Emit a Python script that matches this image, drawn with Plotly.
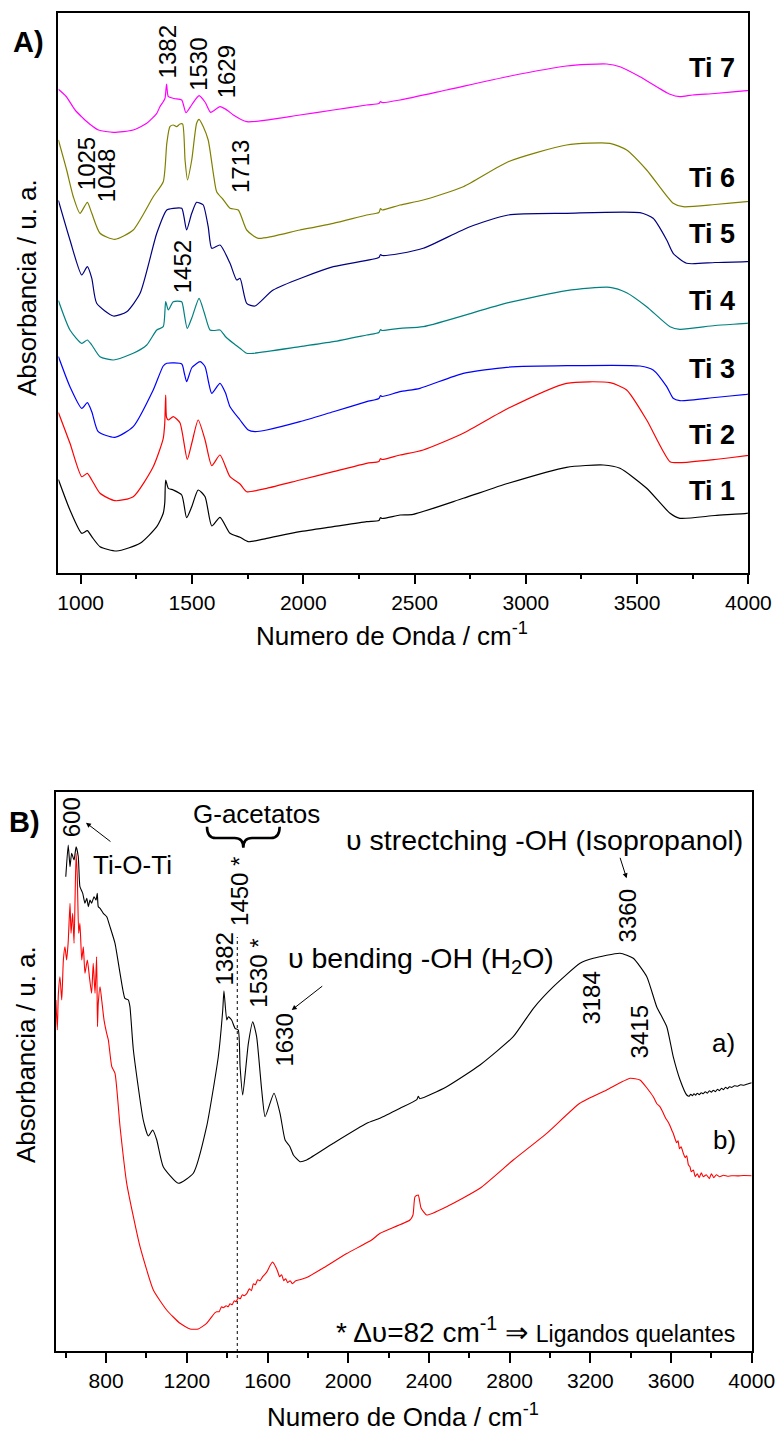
import plotly.graph_objects as go

W, H = 777, 1434
FONT = "Liberation Sans, Arial, Helvetica, sans-serif"

# ---------------- Panel A: FTIR spectra of samples Ti 1 ... Ti 7 (offset) ----------------
ti7_wn = [900, 935, 975, 1010, 1027, 1040, 1080, 1147, 1236, 1297, 1342, 1356, 1371, 1379, 1386, 1394,
          1420, 1454, 1473, 1500, 1532, 1560, 1584, 1626, 1660, 1686, 1746, 1985, 2135, 2285, 2340,
          2347, 2355, 2435, 2644, 2920, 3183, 3363, 3423, 3513, 3648, 3692, 3750, 3850, 3992, 4000]
ti7_abs = [4.832, 4.76, 4.625, 4.545, 4.51, 4.485, 4.425, 4.402, 4.425, 4.492, 4.592, 4.658, 4.708, 4.742,
           4.885, 4.758, 4.74, 4.725, 4.598, 4.68, 4.768, 4.70, 4.602, 4.658, 4.62, 4.575, 4.508, 4.575,
           4.625, 4.675, 4.69, 4.71, 4.70, 4.725, 4.825, 4.96, 5.065, 5.085, 5.058, 4.958, 4.782, 4.758,
           4.775, 4.79, 4.818, 4.82]

ti6_wn = [900, 937, 967, 997, 1030, 1050, 1087, 1154, 1236, 1326, 1371, 1387, 1401, 1416, 1431, 1446,
          1458, 1469, 1480, 1499, 1521, 1532, 1551, 1573, 1596, 1611, 1640, 1671, 1708, 1746, 1798,
          1985, 2135, 2285, 2340, 2347, 2355, 2435, 2539, 2719, 2921, 3183, 3378, 3453, 3543, 3662,
          3707, 3850, 3992, 4000]
ti6_abs = [4.325, 4.025, 3.758, 3.592, 3.702, 3.592, 3.392, 3.332, 3.425, 3.758, 3.908, 4.292, 4.458,
           4.475, 4.458, 4.485, 4.485, 4.125, 3.925, 4.125, 4.492, 4.532, 4.458, 4.325, 3.992, 3.808,
           3.73, 3.642, 3.625, 3.425, 3.342, 3.425, 3.492, 3.575, 3.60, 3.64, 3.625, 3.675, 3.725,
           3.858, 4.108, 4.275, 4.292, 4.225, 4.025, 3.692, 3.658, 3.68, 3.708, 3.71]

ti5_wn = [900, 952, 1005, 1030, 1050, 1072, 1147, 1207, 1267, 1342, 1387, 1416, 1454, 1464, 1476, 1499,
          1521, 1537, 1551, 1573, 1589, 1626, 1671, 1701, 1716, 1746, 1783, 1865, 2135, 2340, 2347,
          2355, 2435, 2539, 2749, 2921, 3183, 3513, 3572, 3633, 3662, 3722, 3850, 3992, 4000]
ti5_abs = [3.72, 3.325, 2.975, 3.058, 2.942, 2.692, 2.565, 2.608, 2.792, 3.392, 3.625, 3.642, 3.642, 3.558,
           3.425, 3.592, 3.702, 3.692, 3.675, 3.458, 3.242, 3.275, 3.092, 2.925, 2.942, 2.692, 2.665,
           2.825, 3.058, 3.15, 3.18, 3.17, 3.19, 3.242, 3.458, 3.575, 3.592, 3.598, 3.542, 3.325,
           3.192, 3.092, 3.10, 3.108, 3.11]

ti4_wn = [900, 952, 1005, 1030, 1050, 1087, 1147, 1236, 1297, 1342, 1371, 1382, 1394, 1416, 1454, 1460,
          1479, 1500, 1532, 1555, 1581, 1600, 1626, 1650, 1686, 1716, 1746, 1776, 1985, 2135, 2285,
          2340, 2347, 2355, 2435, 2539, 2921, 3183, 3378, 3453, 3543, 3648, 3692, 3850, 3992, 4000]
ti4_abs = [2.72, 2.425, 2.292, 2.325, 2.275, 2.158, 2.125, 2.192, 2.275, 2.425, 2.458, 2.708, 2.625, 2.708,
           2.708, 2.66, 2.442, 2.55, 2.742, 2.60, 2.425, 2.42, 2.425, 2.36, 2.292, 2.242, 2.192, 2.192,
           2.258, 2.308, 2.375, 2.40, 2.43, 2.42, 2.442, 2.458, 2.698, 2.818, 2.852, 2.798, 2.658,
           2.458, 2.432, 2.47, 2.492, 2.495]

ti3_wn = [900, 952, 1005, 1030, 1050, 1079, 1154, 1236, 1326, 1371, 1387, 1454, 1465, 1476, 1500, 1537,
          1559, 1575, 1589, 1626, 1650, 1671, 1716, 1753, 1783, 1836, 1985, 2135, 2285, 2340, 2347,
          2355, 2435, 2524, 2719, 2914, 3183, 3513, 3572, 3633, 3662, 3692, 3850, 3992, 4000]
ti3_abs = [2.16, 1.858, 1.642, 1.698, 1.608, 1.408, 1.352, 1.458, 1.825, 2.065, 2.092, 2.085, 2.0, 1.908,
           2.05, 2.108, 2.058, 1.90, 1.792, 1.892, 1.80, 1.658, 1.525, 1.425, 1.408, 1.425, 1.508,
           1.608, 1.708, 1.74, 1.77, 1.76, 1.808, 1.842, 1.992, 2.052, 2.068, 2.065, 2.025, 1.858,
           1.742, 1.718, 1.75, 1.782, 1.785]

ti2_wn = [900, 952, 1005, 1030, 1050, 1087, 1154, 1236, 1326, 1371, 1378, 1382, 1386, 1394, 1416, 1446,
          1479, 1500, 1528, 1559, 1589, 1626, 1671, 1716, 1746, 1836, 1985, 2135, 2285, 2340, 2347,
          2355, 2435, 2539, 2719, 2921, 3183, 3378, 3453, 3543, 3648, 3692, 3850, 3992, 4000]
ti2_abs = [1.60, 1.292, 0.958, 0.992, 0.925, 0.792, 0.718, 0.758, 1.058, 1.342, 1.50, 1.775, 1.55, 1.525,
           1.558, 1.498, 1.132, 1.30, 1.525, 1.325, 1.068, 1.175, 0.958, 0.885, 0.808, 0.842, 0.925,
           1.008, 1.092, 1.11, 1.14, 1.13, 1.175, 1.225, 1.392, 1.642, 1.892, 1.898, 1.825, 1.525,
           1.108, 1.098, 1.13, 1.168, 1.17]

ti1_wn = [900, 952, 1005, 1030, 1050, 1087, 1162, 1267, 1342, 1371, 1378, 1382, 1394, 1416, 1454, 1476,
          1499, 1528, 1559, 1589, 1626, 1671, 1716, 1753, 1836, 1985, 2135, 2285, 2340, 2347, 2355,
          2435, 2494, 2719, 2921, 3183, 3348, 3423, 3543, 3648, 3692, 3850, 3992, 4000]
ti1_abs = [0.93, 0.625, 0.392, 0.418, 0.358, 0.258, 0.215, 0.292, 0.458, 0.592, 0.70, 0.925, 0.842, 0.825,
           0.775, 0.548, 0.658, 0.825, 0.758, 0.465, 0.552, 0.392, 0.352, 0.308, 0.342, 0.408, 0.458,
           0.508, 0.52, 0.55, 0.54, 0.575, 0.582, 0.742, 0.892, 1.052, 1.075, 1.042, 0.842, 0.592,
           0.542, 0.57, 0.592, 0.595]

series_a = [
    ("Ti 1", ti1_wn, ti1_abs, "#000000"),
    ("Ti 2", ti2_wn, ti2_abs, "#FF0000"),
    ("Ti 3", ti3_wn, ti3_abs, "#0000FF"),
    ("Ti 4", ti4_wn, ti4_abs, "#008080"),
    ("Ti 5", ti5_wn, ti5_abs, "#000080"),
    ("Ti 6", ti6_wn, ti6_abs, "#808000"),
    ("Ti 7", ti7_wn, ti7_abs, "#FF00FF"),
]
# vertical position (absorbance units) of each sample name at the right side
label_a_y = [0.815, 1.38, 2.035, 2.715, 3.385, 3.95, 5.045]

# band assignments written above the peaks (value, absorbance of label centre, x shift px)
peaks_a = [("1382", 5.208, 2), ("1530", 5.083, 0), ("1629", 5.008, 6),
           ("1025", 4.085, 0), ("1048", 3.967, 15), ("1713", 4.058, 1), ("1452", 3.055, 1)]

# ---------------- Panel B: spectra a) and b) ----------------
a_wn = [600, 612, 621, 629, 641, 651, 662, 670, 684, 695, 704, 712, 720, 728, 740, 750, 756, 761, 770,
        786, 803, 819, 844, 869, 893, 910, 918, 935, 984, 1009, 1031, 1051, 1083, 1158, 1232, 1298,
        1356, 1378, 1384, 1398, 1406, 1422, 1439, 1455, 1464, 1477, 1505, 1527, 1546, 1571, 1588,
        1632, 1662, 1687, 1711, 1728, 1761, 1794, 1926, 2092, 2157, 2257, 2340, 2347, 2355, 2488,
        2653, 2818, 2918, 3017, 3149, 3215, 3347, 3413, 3480, 3529, 3579, 3611, 3645, 3678, 3690,
        3698, 3706, 3714, 3722, 3730, 3740, 3750, 3760, 3770, 3780, 3790, 3800, 3810, 3820, 3830,
        3840, 3850, 3860, 3870, 3880, 3890, 3900, 3915, 3930, 3945, 3960, 3980, 4000]
a_abs = [4.74, 5.057, 4.84, 4.974, 4.907, 5.04, 4.94, 4.64, 4.574, 4.474, 4.524, 4.44, 4.507, 4.474,
         4.54, 4.507, 4.574, 4.44, 4.424, 4.374, 4.34, 4.24, 4.074, 3.774, 3.524, 3.507, 3.44, 3.007,
         2.307, 2.147, 2.207, 2.107, 1.84, 1.674, 1.774, 2.24, 2.94, 3.407, 3.60, 3.307, 3.34, 3.307,
         3.224, 3.207, 2.84, 2.557, 3.074, 3.29, 3.14, 2.607, 2.34, 2.574, 2.374, 2.107, 2.04, 1.957,
         1.89, 1.907, 2.074, 2.274, 2.324, 2.424, 2.51, 2.545, 2.52, 2.64, 2.857, 3.14, 3.424, 3.64,
         3.874, 3.924, 3.974, 3.924, 3.74, 3.44, 3.24, 2.94, 2.707, 2.557, 2.545, 2.565, 2.55, 2.57,
         2.555, 2.575, 2.56, 2.58, 2.57, 2.59, 2.575, 2.60, 2.585, 2.605, 2.59, 2.615, 2.60, 2.625,
         2.61, 2.635, 2.62, 2.64, 2.632, 2.65, 2.645, 2.66, 2.655, 2.668, 2.68]

b_wn = [551, 558, 563, 571, 580, 588, 596, 604, 612, 621, 626, 634, 641, 651, 657, 664, 670, 679, 687,
        695, 707, 717, 728, 736, 745, 753, 757, 761, 770, 778, 790, 803, 811, 828, 844, 869, 902, 935,
        968, 1034, 1100, 1166, 1216, 1257, 1298, 1320, 1340, 1348, 1360, 1372, 1381, 1395, 1405,
        1414, 1425, 1435, 1444, 1455, 1465, 1475, 1485, 1497, 1510, 1520, 1530, 1540, 1551, 1563,
        1576, 1590, 1600, 1612, 1625, 1632, 1640, 1649, 1660, 1670, 1680, 1690, 1700, 1712, 1723,
        1740, 1760, 1797, 1870, 1993, 2116, 2158, 2306, 2321, 2331, 2347, 2361, 2389, 2488, 2653,
        2818, 2984, 3148, 3281, 3397, 3446, 3512, 3530, 3545, 3562, 3575, 3585, 3595, 3605, 3611,
        3620, 3628, 3635, 3642, 3650, 3661, 3670, 3678, 3686, 3694, 3700, 3711, 3720, 3730, 3740,
        3750, 3760, 3775, 3790, 3800, 3812, 3825, 3840, 3860, 3880, 3900, 3930, 3960, 4000]
b_abs = [3.507, 3.207, 3.557, 3.74, 3.507, 3.907, 4.04, 3.907, 4.09, 4.474, 4.174, 4.374, 4.074, 4.974,
         4.74, 4.174, 4.274, 3.907, 4.04, 3.774, 3.907, 3.74, 3.574, 3.874, 3.574, 3.94, 3.24, 3.474,
         3.64, 3.507, 3.30, 3.17, 3.107, 2.84, 2.774, 2.24, 1.674, 1.34, 1.04, 0.607, 0.407, 0.274,
         0.217, 0.217, 0.274, 0.33, 0.38, 0.39, 0.39, 0.44, 0.43, 0.45, 0.44, 0.47, 0.46, 0.50, 0.49,
         0.53, 0.52, 0.56, 0.55, 0.57, 0.62, 0.60, 0.67, 0.66, 0.71, 0.70, 0.74, 0.77, 0.80, 0.85,
         0.887, 0.87, 0.84, 0.80, 0.74, 0.76, 0.70, 0.72, 0.68, 0.70, 0.67, 0.70, 0.71, 0.735, 0.82,
         0.972, 1.107, 1.174, 1.307, 1.357, 1.54, 1.557, 1.427, 1.357, 1.44, 1.624, 1.907, 2.174,
         2.474, 2.607, 2.724, 2.707, 2.54, 2.47, 2.44, 2.374, 2.32, 2.29, 2.25, 2.20, 2.174, 2.12,
         2.08, 2.10, 2.02, 2.04, 1.974, 1.93, 1.95, 1.86, 1.84, 1.79, 1.807, 1.74, 1.77, 1.73, 1.78,
         1.74, 1.76, 1.72, 1.77, 1.73, 1.76, 1.74, 1.755, 1.745, 1.75, 1.748, 1.752, 1.75]

# band labels of panel B (text, wavenumber, absorbance of label centre, x shift px)
peaks_b = [("600", 600, 5.332, 6), ("1450 *", 1450, 4.59, 2), ("1382", 1382, 3.917, 0),
           ("1530 *", 1530, 3.774, 5), ("1630", 1630, 3.107, 10), ("3360", 3360, 4.349, 5),
           ("3184", 3184, 3.522, 4), ("3415", 3415, 3.19, 6)]
acetate_band = 1450            # dotted marker line through the acetate band
brace_span = (1300, 1660)      # wavenumber extent of the "G-acetatos" brace
brace_levels = (5.24, 5.127, 5.03)   # tips, bar and point height of the brace

# ---------------- figure ----------------
fig = go.Figure()
for name, wn, ab, col in series_a:
    fig.add_trace(go.Scatter(x=wn, y=ab, mode="lines",
                             line=dict(color=col, width=1.2, shape="spline", smoothing=0.6),
                             name=name, xaxis="x", yaxis="y", showlegend=False))
fig.add_trace(go.Scatter(x=a_wn, y=a_abs, mode="lines",
                         line=dict(color="black", width=1.1, shape="spline", smoothing=0.5),
                         name="a)", xaxis="x2", yaxis="y2", showlegend=False))
fig.add_trace(go.Scatter(x=b_wn, y=b_abs, mode="lines",
                         line=dict(color="#FF0000", width=1.1, shape="spline", smoothing=0.5),
                         name="b)", xaxis="x2", yaxis="y2", showlegend=False))

axis_common = dict(showline=True, linecolor="black", linewidth=1.6, mirror=True, showgrid=False,
                   zeroline=False, automargin=False)
xa_common = dict(axis_common, ticks="outside", ticklen=10, tickwidth=1.5, tickcolor="black",
                 tickfont=dict(family=FONT, size=21, color="black"))
ya_common = dict(axis_common, ticks="", showticklabels=False)

fig.update_layout(
    width=W, height=H, margin=dict(l=0, r=0, t=0, b=0),
    paper_bgcolor="white", plot_bgcolor="white", template="none",
    xaxis=dict(xa_common, domain=[58.4 / W, 748.4 / W], anchor="y", range=[900, 4000],
               tick0=1000, dtick=500,
               minor=dict(ticks="outside", ticklen=5, tickwidth=1.5, tickcolor="black",
                          tick0=1000, dtick=250, showgrid=False)),
    yaxis=dict(ya_common, domain=[1 - 572.5 / H, 1 - 13.3 / H], anchor="x", range=[0, 5.592]),
    xaxis2=dict(xa_common, domain=[55.7 / W, 751.7 / W], anchor="y2", range=[550, 4000],
                tick0=800, dtick=400,
                minor=dict(ticks="outside", ticklen=5, tickwidth=1.5, tickcolor="black",
                           tick0=800, dtick=200, showgrid=False)),
    yaxis2=dict(ya_common, domain=[1 - 1350.7 / H, 1 - 791.7 / H], anchor="x2", range=[0, 5.59]),
)

ann = []
txt = dict(family=FONT, color="black")


def page_text(text, xc, yc, size, angle=0, bold=False):
    """Text centred on a point given in page pixels (x from left, y from top)."""
    return dict(text=f"<b>{text}</b>" if bold else text, x=xc / W, y=1 - yc / H,
                xref="paper", yref="paper", xanchor="center", yanchor="middle",
                textangle=angle, showarrow=False, font=dict(txt, size=size))


# panel letters and axis titles
ann.append(page_text("A)", 28, 42.5, 29, bold=True))
ann.append(page_text("B)", 24, 822.5, 29, bold=True))
ann.append(page_text("Absorbancia / u. a.", 26.5, 287.5, 26, angle=-90))
ann.append(page_text("Absorbancia / u. a.", 26, 1055, 26, angle=-90))
ann.append(page_text("Numero de Onda / cm<sup>-1</sup>", 392, 634, 26))
ann.append(page_text("Numero de Onda / cm<sup>-1</sup>", 403, 1415, 26))

# panel A: sample names and band positions
for (name, _, _, _), yv in zip(series_a, label_a_y):
    ann.append(dict(text=f"<b>{name}</b>", x=3950, y=yv, xref="x", yref="y", xanchor="right",
                    yanchor="middle", showarrow=False, font=dict(txt, size=27)))
for t, yv, dx in peaks_a:
    ann.append(dict(text=t, x=float(t), y=yv, xref="x", yref="y", xshift=dx, textangle=-90,
                    xanchor="center", yanchor="middle", showarrow=False, font=dict(txt, size=24)))

# panel B: band positions
for t, xv, yv, dx in peaks_b:
    ann.append(dict(text=t, x=xv, y=yv, xref="x2", yref="y2", xshift=dx, textangle=-90,
                    xanchor="center", yanchor="middle", showarrow=False, font=dict(txt, size=24)))


# panel B: assignments
def b_text(text, xv, yv, size, xanchor="center"):
    return dict(text=text, x=xv, y=yv, xref="x2", yref="y2", xanchor=xanchor, yanchor="middle",
                showarrow=False, font=dict(txt, size=size))


def b_arrow(xv, yv, ax, ay):
    return dict(text="", x=xv, y=yv, xref="x2", yref="y2", showarrow=True, arrowhead=2,
                arrowsize=1, arrowwidth=1, arrowcolor="black", ax=ax, ay=ay)


ann.append(b_text("Ti-O-Ti", 931, 4.857, 26))
ann.append(b_arrow(700, 5.28, 26, 20))
ann.append(b_text("G-acetatos", 1546, 5.367, 26))
ann.append(b_text("\u03c5 strectching -OH (Isopropanol)", 3965, 5.107, 28.5, xanchor="right"))
ann.append(b_arrow(3380, 4.724, -7, -22))
ann.append(b_text("\u03c5 bending -OH (H<sub>2</sub>O)", 1690, 3.907, 28.5, xanchor="left"))
ann.append(b_arrow(1720, 3.407, 32, -25))
ann.append(b_text("a)", 3859, 3.077, 26))
ann.append(b_text("b)", 3867, 2.107, 26))
ann.append(b_text("* \u0394\u03c5=82 cm<sup>-1</sup> \u21d2 <span style='font-size:23px'>Ligandos quelantes</span>",
                  3926, 0.207, 28, xanchor="right"))

fig.update_layout(annotations=ann)

# curly brace grouping the acetate bands
bl, br = brace_span
bc = (bl + br) / 2
yt, ym, yb = brace_levels
q = (br - bl) * 0.12
brace_path = (f"M {bl},{yt} Q {bl},{ym} {bl + q},{ym} L {bc - q},{ym} Q {bc},{ym} {bc},{yb} "
              f"Q {bc},{ym} {bc + q},{ym} L {br - q},{ym} Q {br},{ym} {br},{yt}")
fig.add_shape(type="path", xref="x2", yref="y2", path=brace_path,
              line=dict(color="black", width=2.6))

# dotted guide through the acetate band, running just past the bottom axis
fig.add_shape(type="line", xref="x2", yref="paper", x0=acetate_band, x1=acetate_band,
              y0=1 - 1358 / H, y1=1 - 937 / H, line=dict(color="black", width=1, dash="dot"))

fig.write_html("out.html")
